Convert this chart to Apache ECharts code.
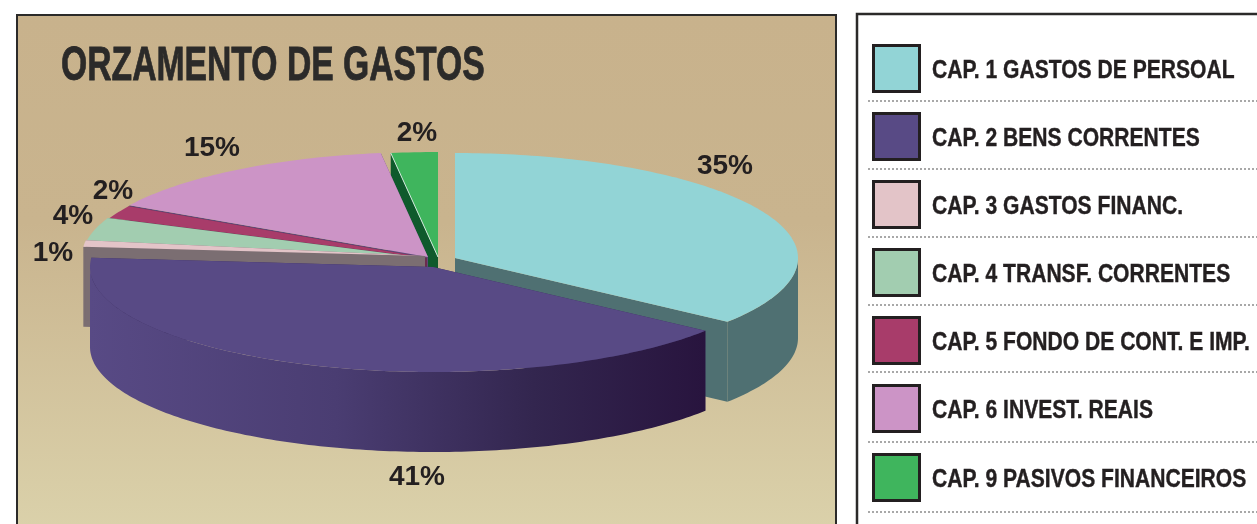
<!DOCTYPE html>
<html><head><meta charset="utf-8">
<style>html,body{margin:0;padding:0;background:#fff}#c{width:1257px;height:524px}</style>
<script src="https://cdn.jsdelivr.net/npm/echarts@6/dist/echarts.min.js"></script>
</head><body><div id="c"></div>
<script>
const categories = ['CAP. 1 GASTOS DE PERSOAL','CAP. 2 BENS CORRENTES','CAP. 3 GASTOS FINANC.','CAP. 4 TRANSF. CORRENTES','CAP. 5 FONDO DE CONT. E IMP.','CAP. 6 INVEST. REAIS','CAP. 9 PASIVOS FINANCEIROS'];
const values = [35.4,41,1,3.8,2,14.6,2.2];
const topColors = ['#92d4d6','#584a85','#e3c4c8','#a2cdb0','#a83c6a','#cc94c6','#3fb55d'];
const wallColors = ['#4f7072','#3a2c5c','#7b6e72','#5f7a6b','#6b2b4e','#5f4a78','#0f5a2c'];
const centers = [[455,258],[433,267],[425,256],[425,258],[427,258],[428,257],[438,257]];
const labelSpots = [[725,166],[417,477],[53,253],[73,216],[113,191],[212,148],[417,133]];
const paintOrder = [6,5,4,3,2,0,1];
const swatchTops = [44,112,180,248,316,384,453];
const ruleRows = [101,169,237,305,372,442,512];
const RX = 343, RY = 105, DEPTH = 80;
const SANS = '"Liberation Sans",Arial,sans-serif';
const INK = '#231f20';

const total = values.reduce((a,b)=>a+b,0);
const starts = []; let acc = 0;
values.forEach(v=>{starts.push(acc/total*360); acc+=v;});
const pt = (c,deg,dy=0)=>{const r=deg*Math.PI/180;return [c[0]+RX*Math.sin(r), c[1]-RY*Math.cos(r)+dy];};
const arc = (c,a,b,dy=0)=>{const p=[];const n=Math.max(2,Math.ceil(b-a));for(let k=0;k<=n;k++)p.push(pt(c,a+(b-a)*k/n,dy));return p;};

function render(i){
  return function(){
    const c=centers[i], a=starts[i], b=a+values[i]/total*360;
    const kids=[];
    const poly=(points,fill)=>kids.push({type:'polygon',shape:{points},style:{fill}});
    const apexLow=[c[0],c[1]+DEPTH];
    poly([c,pt(c,a),pt(c,a,DEPTH),apexLow],wallColors[i]);
    poly([c,pt(c,b),pt(c,b,DEPTH),apexLow],wallColors[i]);
    const lo=Math.max(a,90), hi=Math.min(b,270);
    if(hi>lo){
      const wallFill = i===1 ? new echarts.graphic.LinearGradient(0,0,1,0,[{offset:0,color:'#584a85'},{offset:.4,color:'#4a3d72'},{offset:.72,color:'#33264f'},{offset:1,color:'#28143e'}]) : wallColors[i];
      poly(arc(c,lo,hi).concat(arc(c,lo,hi,DEPTH).reverse()),wallFill);
    }
    poly([c].concat(arc(c,a,b)),topColors[i]);
    if(i===6) kids.push({type:'line',shape:{x1:pt(c,a)[0],y1:pt(c,a)[1],x2:c[0],y2:c[1]},style:{stroke:'#cfe8dc',lineWidth:1}});
    kids.push({type:'text',style:{text:Math.round(values[i])+'%',x:labelSpots[i][0],y:labelSpots[i][1],align:'center',verticalAlign:'middle',fill:INK,font:'bold 28px '+SANS},z2:100});
    return {type:'group',children:kids};
  };
}

const dotted=ruleRows.map(y=>({type:'line',z:1,shape:{x1:868,y1:y,x2:1257,y2:y},style:{stroke:'#a8a8a8',lineWidth:2,lineDash:[2,2]}}));
const swatches=categories.map((n,i)=>({type:'rect',z:2,shape:{x:873.5,y:swatchTops[i]+1.5,width:46,height:46},style:{fill:topColors[i],stroke:INK,lineWidth:3}}));
const legendTexts=categories.map((n,i)=>({type:'text',z:2,x:932,y:swatchTops[i]+27,scaleX:0.843,style:{text:n,x:0,y:0,align:'left',verticalAlign:'middle',fill:INK,stroke:INK,lineWidth:0.4,font:'bold 25px '+SANS}}));

const option={
  animation:false,
  graphic:[
    {type:'rect',z:-10,shape:{x:17,y:15,width:819,height:520},style:{stroke:'#2b2a29',lineWidth:2,fill:new echarts.graphic.LinearGradient(0,0,0,1,[{offset:0,color:'#c8b28c'},{offset:.4,color:'#c9b48e'},{offset:1,color:'#dbd2ab'}])}},
    {type:'rect',z:-10,shape:{x:857,y:14,width:420,height:530},style:{stroke:'#2b2a29',lineWidth:2.5,fill:'#fff'}},
    {type:'text',z:2,x:61,y:67,scaleX:0.702,style:{text:'ORZAMENTO DE GASTOS',x:0,y:0,align:'left',verticalAlign:'middle',fill:'#2b2a29',stroke:'#2b2a29',lineWidth:0.8,font:'bold 48px '+SANS}},
    ...dotted,...swatches,...legendTexts
  ],
  series:paintOrder.map(i=>({
    type:'custom',name:categories[i],coordinateSystem:'none',silent:true,
    itemStyle:{color:topColors[i]},
    data:[values[i]],
    renderItem:render(i)
  }))
};
echarts.init(document.getElementById('c'),null,{renderer:'canvas'}).setOption(option);
</script></body></html>
